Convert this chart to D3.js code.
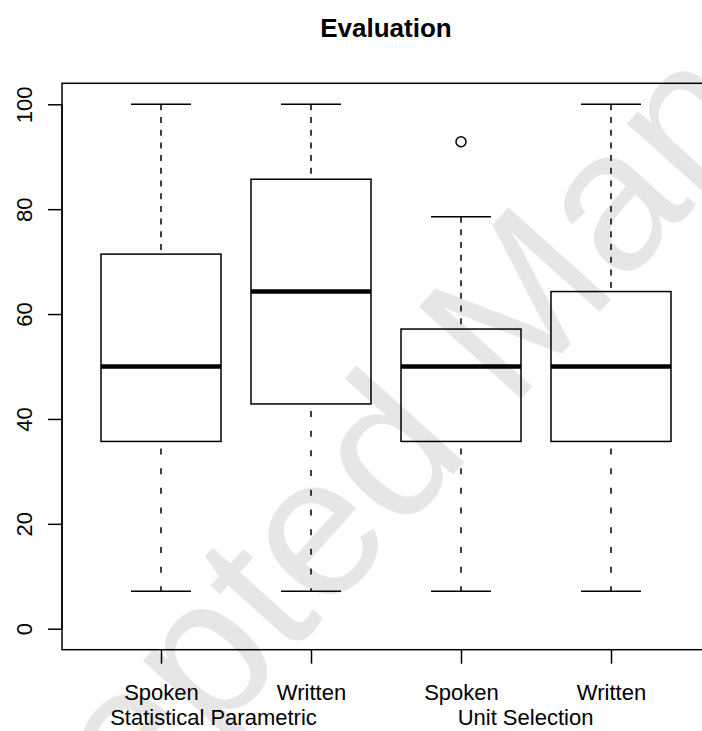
<!DOCTYPE html>
<html>
<head>
<meta charset="utf-8">
<script src="https://cdn.jsdelivr.net/npm/d3@7"></script>
<style>
  html, body { margin: 0; padding: 0; background: #fff; }
  svg { display: block; font-family: "Liberation Sans", Arial, Helvetica, sans-serif; }
</style>
</head>
<body>
<div id="chart"></div>
<script>
// ---------------------------
// DATA
// ---------------------------
const boxLabels = ["Spoken", "Written", "Spoken", "Written"];
const whiskerLow = [7.14, 7.14, 7.14, 7.14];
const quartile1 = [35.71, 42.86, 35.71, 35.71];
const medians = [50, 64.29, 50, 50];
const quartile3 = [71.43, 85.71, 57.14, 64.29];
const whiskerHigh = [100, 100, 78.57, 100];
const outliers = [[], [], [92.86], []];
const groupLabels = ["Statistical Parametric", "Unit Selection"];
const groupLabelAt = [1.35, 3.43];
const yTicks = [0, 20, 40, 60, 80, 100];

// ---------------------------
// LAYOUT
// ---------------------------
const width = 702;
const height = 731;
const plot = { left: 62, right: 710, top: 83.3, bottom: 649.7 };

const svg = d3.select("#chart")
  .append("svg")
  .attr("width", width)
  .attr("height", height);

// watermark sits behind everything
svg.append("text")
  .attr("transform", "translate(540,378) rotate(-48)")
  .attr("text-anchor", "middle")
  .attr("fill", "#e6e6e6")
  .style("font-size", "200px")
  .text("Accepted Manuscript");

// ---------------------------
// SCALES (R style: 4% padding)
// ---------------------------
const x = d3.scaleLinear()
  .domain([0.34, 4.66])
  .range([plot.left, plot.right]);

const y = d3.scaleLinear()
  .domain([-4, 104])
  .range([plot.bottom, plot.top]);

const boxHalf = 0.4;    // boxwex 0.8
const capHalf = 0.2;    // staple

// ---------------------------
// AXES
// ---------------------------
const yAxis = svg.append("g")
  .attr("transform", `translate(${plot.left},0)`)
  .call(d3.axisLeft(y).tickValues(yTicks).tickSize(14).tickSizeOuter(0));
yAxis.select(".domain")
  .attr("d", `M0,${y(0)}V${y(100)}`)
  .attr("stroke-width", 1.5);
yAxis.selectAll(".tick line").attr("stroke-width", 1.5);
yAxis.selectAll(".tick text")
  .attr("x", null).attr("dy", null)
  .attr("transform", "translate(-30,0) rotate(-90)")
  .attr("text-anchor", "middle")
  .attr("fill", "#000")
  .style("font-size", "22px")
  .style("font-family", null);

const xAxis = svg.append("g")
  .attr("transform", `translate(0,${plot.bottom})`)
  .call(d3.axisBottom(x).tickValues(d3.range(1, boxLabels.length + 1)).tickSize(14).tickSizeOuter(0)
    .tickFormat(d => boxLabels[d - 1]));
xAxis.select(".domain").remove();
xAxis.selectAll(".tick line").attr("stroke-width", 1.5);
xAxis.selectAll(".tick text")
  .attr("y", 50).attr("dy", null)
  .attr("fill", "#000")
  .style("font-size", "22px")
  .style("font-family", null);

// group labels on second line
svg.selectAll(".group-label")
  .data(groupLabels)
  .join("text")
  .attr("class", "group-label")
  .attr("x", (d, i) => x(groupLabelAt[i]))
  .attr("y", 725)
  .attr("text-anchor", "middle")
  .style("font-size", "22px")
  .text(d => d);

// plot frame
svg.append("rect")
  .attr("x", plot.left)
  .attr("y", plot.top)
  .attr("width", plot.right - plot.left)
  .attr("height", plot.bottom - plot.top)
  .attr("fill", "none")
  .attr("stroke", "#000")
  .attr("stroke-width", 1.5);

// ---------------------------
// BOXES
// ---------------------------
const boxes = svg.selectAll(".box")
  .data(boxLabels.map((d, i) => ({
    pos: i + 1, lo: whiskerLow[i], q1: quartile1[i], med: medians[i],
    q3: quartile3[i], hi: whiskerHigh[i], out: outliers[i]
  })))
  .join("g")
  .attr("class", "box")
  .attr("stroke", "#000")
  .attr("fill", "none");

// whiskers (dashed)
boxes.append("line")
  .attr("x1", d => x(d.pos)).attr("x2", d => x(d.pos))
  .attr("y1", d => y(d.hi)).attr("y2", d => y(d.q3))
  .attr("stroke-width", 1.5)
  .attr("stroke-dasharray", "6,6.7");
boxes.append("line")
  .attr("x1", d => x(d.pos)).attr("x2", d => x(d.pos))
  .attr("y1", d => y(d.q1)).attr("y2", d => y(d.lo))
  .attr("stroke-width", 1.5)
  .attr("stroke-dasharray", "0,7,6,6.7");

// staples
boxes.selectAll(".cap")
  .data(d => [d.lo, d.hi].map(v => ({ pos: d.pos, v })))
  .join("line")
  .attr("class", "cap")
  .attr("x1", d => x(d.pos - capHalf)).attr("x2", d => x(d.pos + capHalf))
  .attr("y1", d => y(d.v)).attr("y2", d => y(d.v))
  .attr("stroke-width", 1.5);

// box body
boxes.append("rect")
  .attr("x", d => x(d.pos - boxHalf))
  .attr("width", d => x(d.pos + boxHalf) - x(d.pos - boxHalf))
  .attr("y", d => y(d.q3))
  .attr("height", d => y(d.q1) - y(d.q3))
  .attr("stroke-width", 1.5);

// median
boxes.append("line")
  .attr("x1", d => x(d.pos - boxHalf)).attr("x2", d => x(d.pos + boxHalf))
  .attr("y1", d => y(d.med)).attr("y2", d => y(d.med))
  .attr("stroke-width", 4.5);

// outliers
boxes.selectAll(".outlier")
  .data(d => d.out.map(v => ({ pos: d.pos, v })))
  .join("circle")
  .attr("class", "outlier")
  .attr("cx", d => x(d.pos))
  .attr("cy", d => y(d.v))
  .attr("r", 5)
  .attr("stroke-width", 1.5);

// ---------------------------
// TITLE
// ---------------------------
svg.append("text")
  .attr("x", x(2.5))
  .attr("y", 37)
  .attr("text-anchor", "middle")
  .style("font-size", "26px")
  .style("font-weight", "bold")
  .text("Evaluation");
</script>
</body>
</html>
